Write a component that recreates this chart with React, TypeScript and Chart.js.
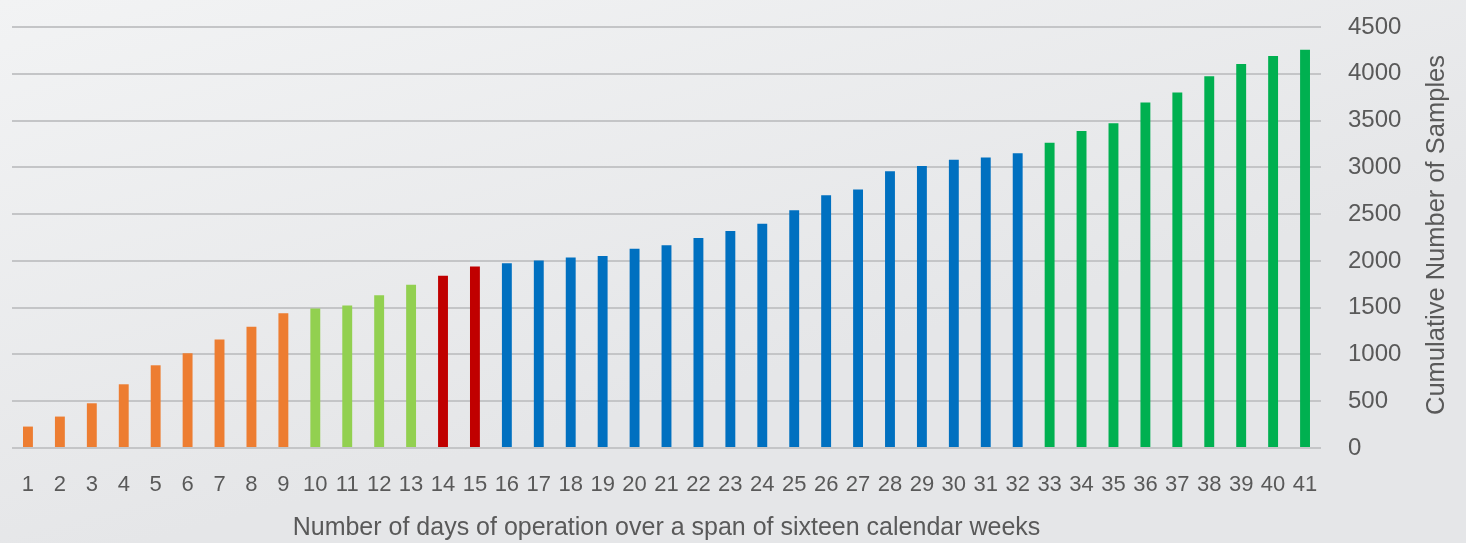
import React, { useEffect, useRef } from "react";
import { Chart, registerables } from "chart.js";

Chart.register(...registerables);

const days: string[] = [
  "1","2","3","4","5","6","7","8","9","10","11","12","13","14","15","16","17","18","19","20",
  "21","22","23","24","25","26","27","28","29","30","31","32","33","34","35","36","37","38","39","40","41",
];

const cumulativeSamples: number[] = [
  229, 336, 478, 681, 884, 1012, 1159, 1297, 1440,
  1490, 1522, 1632, 1746,
  1842, 1939,
  1974, 2003, 2035, 2052, 2131, 2167, 2245, 2320, 2398, 2541, 2701, 2762, 2957, 3014, 3082, 3104, 3150,
  3264, 3388, 3470, 3692, 3799, 3973, 4104, 4190, 4258,
];

// phase index per day: 0 orange, 1 light green, 2 dark red, 3 blue, 4 green
const phaseOfDay: number[] = [
  0,0,0,0,0,0,0,0,0,
  1,1,1,1,
  2,2,
  3,3,3,3,3,3,3,3,3,3,3,3,3,3,3,3,3,
  4,4,4,4,4,4,4,4,4,
];

const phaseColors: string[] = ["#ED7D31", "#92D050", "#C00000", "#0070C0", "#00B050"];

const yTicks: number[] = [0, 500, 1000, 1500, 2000, 2500, 3000, 3500, 4000, 4500];

const xTitle = "Number of days of operation over a span of sixteen calendar weeks";
const yTitle = "Cumulative Number of Samples";

const regularFont = "'Liberation Sans', Arial, sans-serif";

export default function App() {
  const canvasRef = useRef<HTMLCanvasElement | null>(null);

  useEffect(() => {
    document.body.style.margin = "0";
    const canvas = canvasRef.current;
    if (!canvas) return;

    const bgPlugin = {
      id: "bg",
      beforeDraw(chart: any) {
        const { ctx, width, height } = chart;
        const g = ctx.createLinearGradient(0, 0, width * 0.1, height);
        g.addColorStop(0, "#f2f3f4");
        g.addColorStop(1, "#e5e6e8");
        ctx.save();
        ctx.fillStyle = g;
        ctx.fillRect(0, 0, width, height);
        ctx.restore();
      },
    };

    const yTitlePlugin = {
      id: "yTitleLeftReading",
      afterDraw(chart: any) {
        const { ctx } = chart;
        ctx.save();
        ctx.translate(1437, 235);
        ctx.rotate(-Math.PI / 2);
        ctx.font = `25.5px ${regularFont}`;
        ctx.fillStyle = "#595959";
        ctx.textAlign = "center";
        ctx.textBaseline = "middle";
        ctx.fillText(yTitle, 0, 0);
        ctx.restore();
      },
    };

    const chart = new Chart(canvas, {
      type: "bar",
      data: {
        labels: days,
        datasets: [
          {
            label: yTitle,
            data: cumulativeSamples,
            backgroundColor: phaseOfDay.map((p) => phaseColors[p]),
            categoryPercentage: 1,
            barPercentage: 0.31,
          },
        ],
      },
      options: {
        animation: false,
        responsive: true,
        maintainAspectRatio: false,
        layout: { padding: { left: 12, top: 27, right: 0, bottom: 0 } },
        plugins: {
          legend: { display: false },
          tooltip: { enabled: false },
        },
        scales: {
          x: {
            grid: { display: false },
            border: { display: false },
            ticks: {
              color: "#595959",
              font: { family: regularFont, size: 22 },
              padding: 16,
              maxRotation: 0,
              autoSkip: false,
            },
            title: {
              display: true,
              text: xTitle,
              color: "#595959",
              font: { family: regularFont, size: 25 },
              padding: { top: 0, bottom: 0 },
            },
            afterFit(scale: any) {
              scale.height = 95;
              scale.paddingLeft = 0;
              scale.paddingRight = 0;
            },
          },
          y: {
            position: "right",
            min: 0,
            max: 4500,
            afterBuildTicks(scale: any) {
              scale.ticks = yTicks.map((v) => ({ value: v }));
            },
            grid: { color: "#c4c5c7", lineWidth: 2, drawTicks: false },
            border: { display: false },
            ticks: {
              color: "#595959",
              font: { family: regularFont, size: 24 },
              padding: 27,
              callback: (v: any) => String(v),
            },
            afterFit(scale: any) {
              scale.width = 145;
              scale.paddingTop = 0;
              scale.paddingBottom = 0;
            },
          },
        },
      },
      plugins: [bgPlugin, yTitlePlugin],
    });

    return () => chart.destroy();
  }, []);

  return (
    <div style={{ position: "fixed", left: 0, top: 0, width: 1466, height: 543 }}>
      <canvas ref={canvasRef} />
    </div>
  );
}
